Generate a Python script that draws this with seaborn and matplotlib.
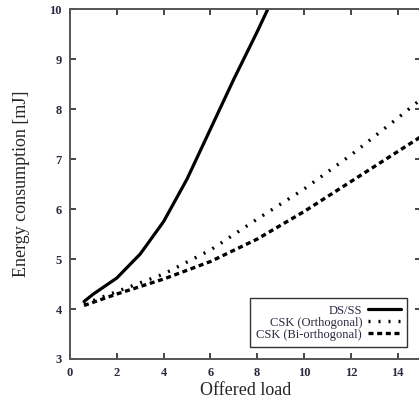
import numpy as np
import pandas as pd
import seaborn as sns
import matplotlib
matplotlib.use('Agg')
import matplotlib.pyplot as plt

# values
load_dsss = [0.6, 1.0, 2.0, 3.0, 4.0, 5.0, 6.0, 7.0, 8.0, 8.5]
energy_dsss = [4.15, 4.3, 4.62, 5.1, 5.75, 6.6, 7.6, 8.6, 9.55, 10.05]

load_csk = [0.6, 2.0, 4.0, 6.0, 8.0, 10.0, 12.0, 14.0, 15.0]
energy_orth = [4.1, 4.35, 4.7, 5.18, 5.8, 6.4, 7.08, 7.82, 8.2]
energy_biorth = [4.07, 4.3, 4.6, 4.95, 5.4, 5.95, 6.55, 7.15, 7.45]

series_names = ['DS/SS', 'CSK (Orthogonal)', 'CSK (Bi-orthogonal)']
x_ticks = [0, 2, 4, 6, 8, 10, 12, 14]
y_ticks = [3, 4, 5, 6, 7, 8, 9, 10]

sns.set_style('ticks')
plt.rcParams['font.family'] = ['Liberation Serif', 'DejaVu Serif']

fig = plt.figure(figsize=(4.19, 3.98), dpi=100)
ax = fig.add_axes([0.167, 0.098, 0.838, 0.879])

sns.lineplot(x=load_dsss, y=energy_dsss, ax=ax, color='black', lw=2.3,
             label=series_names[0])
sns.lineplot(x=load_csk, y=energy_orth, ax=ax, color='black', lw=2.4,
             linestyle=(0, (0.6, 2.4)), label=series_names[1])
sns.lineplot(x=load_csk, y=energy_biorth, ax=ax, color='black', lw=2.4,
             linestyle=(0, (1.5, 1.1)), label=series_names[2])

ax.set_xlim(0, 15)
ax.set_ylim(3, 10)
ax.set_xticks(x_ticks)
ax.set_yticks(y_ticks)
ax.tick_params(direction='in', top=True, right=True, length=4, width=1.2,
               labelsize=9, labelcolor='#2a2a40', pad=6)
for lab in ax.get_xticklabels() + ax.get_yticklabels():
    lab.set_fontweight('bold')
for sp in ax.spines.values():
    sp.set_visible(True)
    sp.set_color('#555555')
    sp.set_linewidth(1.4)

ax.set_xlabel('Offered load', fontsize=13, labelpad=2)
ax.set_ylabel('Energy consumption [mJ]', fontsize=13, labelpad=14)

leg = ax.legend(loc='lower right', bbox_to_anchor=(0.96, 0.035),
                markerfirst=False, fontsize=9, frameon=True, fancybox=False,
                edgecolor='black', handlelength=2.6, handletextpad=0.5,
                labelspacing=0.0, borderpad=0.5, borderaxespad=0)
leg.get_frame().set_linewidth(1.0)
for t in leg.get_texts():
    t.set_ha('right')
    t.set_color('#2a2a40')

fig.savefig('out.png', dpi=100)
